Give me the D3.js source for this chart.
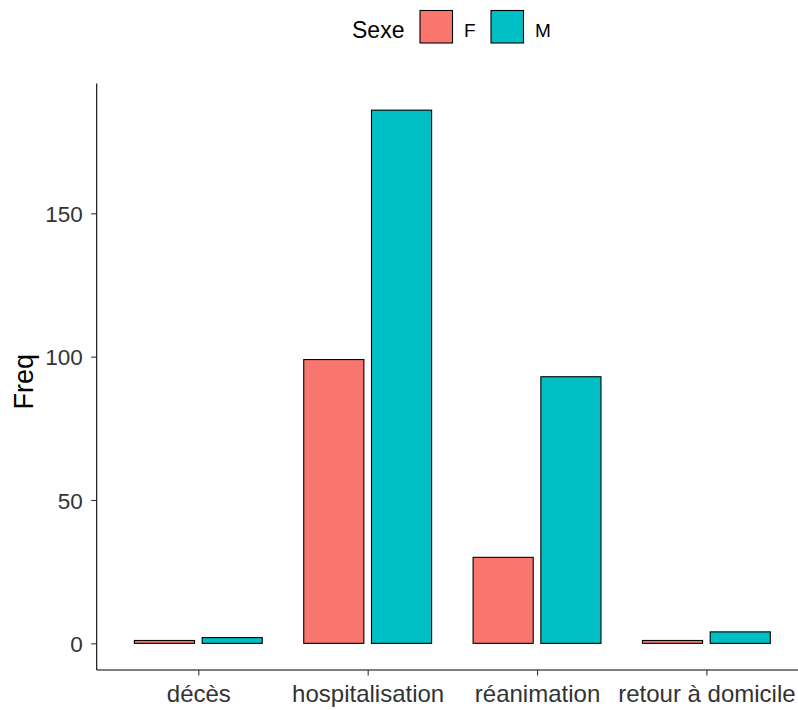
<!DOCTYPE html>
<html><head><meta charset="utf-8">
<script src="https://cdn.jsdelivr.net/npm/d3@7"></script>
<style>body{margin:0;background:#fff}svg{display:block;font-family:"Liberation Sans",Arial,sans-serif}</style>
</head><body>
<script>
const categories = ["décès", "hospitalisation", "réanimation", "retour à domicile"];
const groups = ["F", "M"];
const valuesF = [1, 99, 30, 1];
const valuesM = [2, 186, 93, 4];
const yTicks = [0, 50, 100, 150];
const colors = ["#F8766D", "#00BFC4"];
const legendTitle = "Sexe";
const yTitle = "Freq";

(function () {
const W = 798, H = 710;
const pLeft = 96.7, pRight = 808, pTop = 83.5, pBottom = 670;
const svg = d3.select("body").append("svg").attr("width", W).attr("height", H);

const x = d3.scalePoint().domain(categories).range([pLeft, pRight]).padding(0.6);
const step = x.step();
const maxV = d3.max(valuesM.concat(valuesF));
const y = d3.scaleLinear().domain([-0.05 * maxV, maxV * 1.05]).range([pBottom, pTop]);

const data = [];
categories.forEach((c, i) => {
  data.push({c, g: "F", v: valuesF[i], k: 0});
  data.push({c, g: "M", v: valuesM[i], k: 1});
});
const barW = 0.355 * step;
svg.append("g").selectAll("rect").data(data).join("rect")
  .attr("x", d => x(d.c) + (d.k === 0 ? -0.2 : 0.2) * step - barW / 2)
  .attr("width", barW)
  .attr("y", d => y(d.v))
  .attr("height", d => y(0) - y(d.v))
  .attr("fill", d => colors[d.k])
  .attr("stroke", "#000").attr("stroke-width", 1.1);

const yAxis = svg.append("g").attr("transform", `translate(${pLeft},0)`)
  .call(d3.axisLeft(y).tickValues(yTicks).tickSize(5.5).tickPadding(8.5));
yAxis.attr("font-family", null).attr("font-size", null);
yAxis.select(".domain").attr("d", `M0,${pTop}V${pBottom}`).attr("stroke", "#000").attr("stroke-width", 1.1);
yAxis.selectAll(".tick line").attr("stroke", "#333").attr("stroke-width", 1.1);
yAxis.selectAll(".tick text").attr("font-size", 22.5).attr("fill", "#333").attr("dy", "0.36em");

const xAxis = svg.append("g").attr("transform", `translate(0,${pBottom})`)
  .call(d3.axisBottom(x).tickSize(5.5).tickPadding(9));
xAxis.attr("font-family", null).attr("font-size", null);
xAxis.select(".domain").attr("d", `M${pLeft},0H${W}`).attr("stroke", "#000").attr("stroke-width", 1.1);
xAxis.selectAll(".tick line").attr("stroke", "#333").attr("stroke-width", 1.1);
xAxis.selectAll(".tick text").attr("font-size", 24).attr("fill", "#333").attr("dy", "0.74em");

svg.append("text").attr("transform", `translate(33,${(pTop + pBottom) / 2 + 5}) rotate(-90)`)
  .attr("text-anchor", "middle").attr("font-size", 27).attr("fill", "#000").text(yTitle);

const lg = svg.append("g");
lg.append("text").attr("x", 352).attr("y", 37.5).attr("font-size", 23).attr("fill", "#000").text(legendTitle);
const keyX = [420, 491];
groups.forEach((g, i) => {
  lg.append("rect").attr("x", keyX[i]).attr("y", 10.5).attr("width", 32.5).attr("height", 32.5)
    .attr("fill", colors[i]).attr("stroke", "#000").attr("stroke-width", 1.1);
  lg.append("text").attr("x", keyX[i] + 44).attr("y", 36.5).attr("font-size", 19).attr("fill", "#000").text(g);
});
})();
</script>
</body></html>
